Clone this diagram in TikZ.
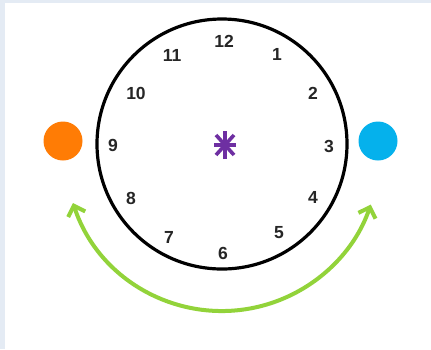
\documentclass[tikz,border=0pt]{standalone}
\usepackage{fontspec}
\setmainfont{Liberation Sans}
\usetikzlibrary{arrows.meta}
\definecolor{bgblue}{HTML}{E4EBF4}
\definecolor{dotorange}{HTML}{FF7C05}
\definecolor{dotblue}{HTML}{05B1EC}
\definecolor{astpurple}{HTML}{6E2FA2}
\definecolor{arcgreen}{HTML}{92D33A}
\tikzset{
  num/.style={font=\fontsize{17.5}{17.5}\selectfont\bfseries, text=black!85, inner sep=0pt},
  dot/.style={circle, inner sep=0pt, minimum size=39pt},
}
\begin{document}
\begin{tikzpicture}[x=1pt,y=1pt]
\useasboundingbox (0,0) rectangle (431,-349);
\fill[bgblue] (0,0) rectangle (431,-349);
\fill[white] (5,-3) rectangle (431,-349);
% clock face
\node[circle, draw=black, line width=3.2pt, minimum size=250pt, inner sep=0pt] (clock) at (222,-144) {};
% numbers
\node[num] (n12) at (224,-41) {12};
\node[num] (n1) at (277,-54) {1};
\node[num] (n2) at (313,-93) {2};
\node[num] (n3) at (329,-146) {3};
\node[num] (n4) at (313,-197) {4};
\node[num] (n5) at (279,-233) {5};
\node[num] (n6) at (223,-253) {6};
\node[num] (n7) at (169,-237) {7};
\node[num] (n8) at (131,-198) {8};
\node[num] (n9) at (113,-145) {9};
\node[num] (n10) at (136,-93) {10};
\node[num] (n11) at (172,-55) {11};
% asterisk
\coordinate (ast) at (225,-145);
\begin{scope}[shift={(ast)}, astpurple, line width=3.6pt]
  \draw (0,-14) -- (0,14);
  \draw (-11,0) -- (11,0);
  \draw (-9,-10) -- (9,10);
  \draw (-9,10) -- (9,-10);
\end{scope}
% dots
\node[dot, fill=dotorange] (orange) at (63,-141) {};
\node[dot, fill=dotblue] (blue) at (378,-141) {};
% green double arrow
\coordinate (arcL) at (73,-203);
\draw[arcgreen, line width=4pt, {Straight Barb[length=9pt,width=18pt]}-{Straight Barb[length=9pt,width=18pt]}]
  (arcL) arc[start angle=198.2, end angle=341.2, radius=157];
\end{tikzpicture}
\end{document}
